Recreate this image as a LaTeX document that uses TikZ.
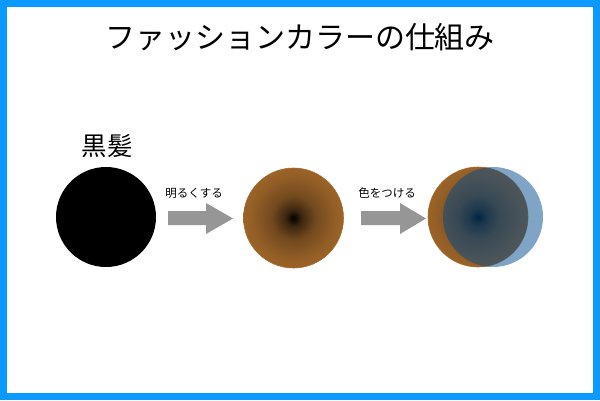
\documentclass[tikz,border=0pt]{standalone}
\usepackage{fontspec}
\newfontfamily\cjk{Noto Sans CJK JP}
\definecolor{frameblue}{RGB}{10,153,255}
\definecolor{hairbrown}{RGB}{168,108,44}
\definecolor{hairblue}{RGB}{0,74,140}
\definecolor{arrowgray}{RGB}{150,150,150}
\colorlet{hbA}{hairbrown!35!black}
\colorlet{hbB}{hairbrown!68!black}
\colorlet{hbC}{hairbrown!88!black}
\colorlet{hbD}{hairbrown!97!black}
\pgfdeclareradialshading{hair}{\pgfpoint{0bp}{0bp}}{%
  color(0bp)=(black);
  color(4bp)=(hbA);
  color(11bp)=(hbB);
  color(21bp)=(hbC);
  color(33bp)=(hbD);
  color(50bp)=(hairbrown)}
\tikzset{
  hairdot/.style={circle, minimum size=100pt, inner sep=0pt},
  blockarrow/.style={fill=arrowgray, draw=none},
  smalllabel/.style={font=\cjk\fontsize{11.5}{13}\selectfont, inner sep=0pt},
}
\begin{document}
\begin{tikzpicture}[x=1pt,y=-1pt]
  % frame
  \fill[frameblue] (0,0) rectangle (600,400);
  \fill[white] (7,7) rectangle (593,393);
  \useasboundingbox (0,0) rectangle (600,400);

  % title
  \node[font=\cjk\fontsize{30}{34}\selectfont, inner sep=0pt] (title) at (300,37) {ファッションカラーの仕組み};

  % black hair
  \node[font=\cjk\fontsize{25.5}{28}\selectfont, inner sep=0pt] (kurokami) at (107,146) {黒髪};
  \node[hairdot, fill=black] (c1) at (106,217) {};

  % arrow 1
  \fill[blockarrow] (168,211) -- (206,211) -- (206,203) -- (233,218.5) -- (206,234) -- (206,225) -- (168,225) -- cycle;
  \node[smalllabel] (l1) at (194,193) {明るくする};

  % bleached
  \node[hairdot, shading=hair, draw=hairbrown, line width=0.6pt] (c2) at (293.5,218) {};

  % arrow 2
  \fill[blockarrow] (361,211) -- (400,211) -- (400,203) -- (426,218.5) -- (400,234) -- (400,225) -- (361,225) -- cycle;
  \node[smalllabel] (l2) at (387,193) {色をつける};

  % coloured
  \node[hairdot, shading=hair, draw=hairbrown, line width=0.6pt] (c3) at (478,217) {};
  \node[hairdot, fill=hairblue, fill opacity=0.5] (c4) at (493,217) {};
\end{tikzpicture}
\end{document}
